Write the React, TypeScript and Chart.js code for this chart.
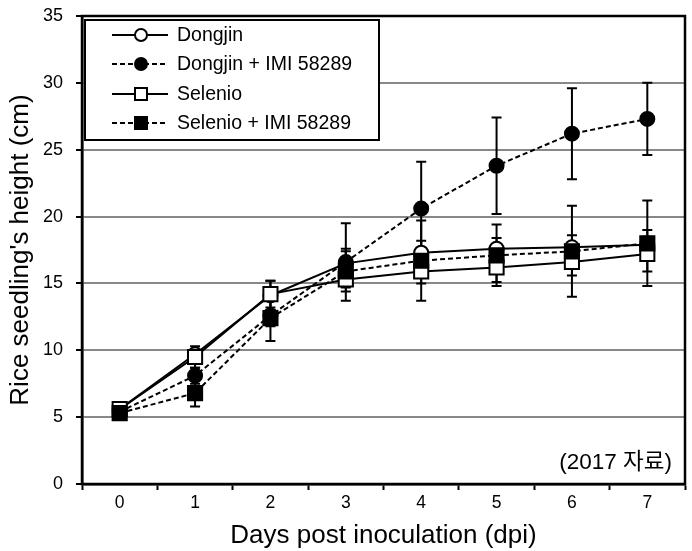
import React, { useEffect, useRef } from "react";
import { Chart, registerables } from "chart.js";

Chart.register(...registerables);

const days = ["0", "1", "2", "3", "4", "5", "6", "7"];
const seriesNames = ["Dongjin", "Dongjin + IMI 58289", "Selenio", "Selenio + IMI 58289"];

const dongjin = [5.6, 9.7, 14.1, 16.5, 17.3, 17.6, 17.7, 17.9];
const dongjinErr = [0.2, 0.3, 1.1, 1.1, 0.9, 0.8, 0.9, 1.1];
const dongjinImi = [5.4, 8.1, 12.6, 16.6, 20.6, 23.8, 26.2, 27.3];
const dongjinImiErr = [0.2, 0.6, 1.9, 2.9, 3.5, 3.6, 3.4, 2.7];
const selenio = [5.6, 9.5, 14.2, 15.3, 15.9, 16.2, 16.6, 17.2];
const selenioErr = [0.2, 0.8, 1.0, 0.6, 0.9, 1.1, 1.0, 1.3];
const selenioImi = [5.3, 6.8, 12.4, 15.9, 16.7, 17.1, 17.4, 18.0];
const selenioImiErr = [0.2, 1.0, 0.6, 1.5, 3.0, 2.3, 3.4, 3.2];

const yTicks = [0, 5, 10, 15, 20, 25, 30, 35];
const noteText = "(2017 자료)";
const yTitle = "Rice seedling's height (cm)";
const xTitle = "Days post inoculation (dpi)";

const FONT = '"Liberation Sans", Arial, "Noto Sans CJK KR", sans-serif';

const errors = [dongjinErr, dongjinImiErr, selenioErr, selenioImiErr];

const errorBarPlugin = {
  id: "errorBars",
  beforeDatasetsDraw(chart: any) {
    const ctx = chart.ctx;
    const yScale = chart.scales.y;
    ctx.save();
    ctx.strokeStyle = "#000";
    ctx.lineWidth = 2;
    chart.data.datasets.forEach((ds: any, i: number) => {
      const meta = chart.getDatasetMeta(i);
      const errs = errors[i];
      meta.data.forEach((pt: any, j: number) => {
        const v = ds.data[j];
        const e = errs[j];
        const x = pt.x;
        const yt = yScale.getPixelForValue(v + e);
        const yb = yScale.getPixelForValue(v - e);
        ctx.beginPath();
        ctx.moveTo(x, yt);
        ctx.lineTo(x, yb);
        ctx.moveTo(x - 5, yt);
        ctx.lineTo(x + 5, yt);
        ctx.moveTo(x - 5, yb);
        ctx.lineTo(x + 5, yb);
        ctx.stroke();
      });
    });
    ctx.restore();
  },
};

const frameLegendPlugin = {
  id: "frameLegend",
  afterDraw(chart: any) {
    const ctx = chart.ctx;
    const a = chart.chartArea;
    ctx.save();
    // plot frame
    ctx.strokeStyle = "#000";
    ctx.lineWidth = 2.5;
    ctx.strokeRect(a.left, a.top, a.right - a.left, a.bottom - a.top);

    // legend box
    const bx = a.left + 3;
    const by = a.top + 4;
    ctx.fillStyle = "#fff";
    ctx.fillRect(bx, by, 294, 120);
    ctx.lineWidth = 2;
    ctx.strokeRect(bx, by, 294, 120);

    const rows = [15, 44, 74, 103];
    chart.data.datasets.forEach((ds: any, i: number) => {
      const y = by + rows[i];
      const x0 = bx + 27;
      const x1 = bx + 83;
      const mx = bx + 56;
      ctx.strokeStyle = "#000";
      ctx.lineWidth = 2;
      ctx.setLineDash(ds.borderDash || []);
      ctx.beginPath();
      ctx.moveTo(x0, y);
      ctx.lineTo(x1, y);
      ctx.stroke();
      ctx.setLineDash([]);
      ctx.fillStyle = ds.pointBackgroundColor;
      ctx.beginPath();
      if (ds.pointStyle === "rect") {
        ctx.rect(mx - 6, y - 6, 12, 12);
      } else {
        ctx.arc(mx, y, 6, 0, Math.PI * 2);
      }
      ctx.fill();
      ctx.stroke();
      ctx.fillStyle = "#000";
      ctx.font = "19.5px " + FONT;
      ctx.textBaseline = "middle";
      ctx.textAlign = "left";
      ctx.fillText(ds.label, bx + 92, y + 1);
    });

    // note
    ctx.font = "22.5px " + FONT;
    ctx.textAlign = "right";
    ctx.textBaseline = "middle";
    ctx.fillStyle = "#000";
    ctx.fillText(noteText, a.right - 13, a.bottom - 21);
    ctx.restore();
  },
};

export default function App() {
  const ref = useRef<HTMLCanvasElement>(null);

  useEffect(() => {
    document.body.style.margin = "0";
    const canvas = ref.current;
    if (!canvas) return;
    const mk = (label: string, data: number[], dashed: boolean, style: string, filled: boolean, order: number) => ({
      label,
      data,
      borderColor: "#000",
      borderWidth: 2,
      borderDash: dashed ? [5, 3] : [],
      pointStyle: style,
      pointRadius: style === "rect" ? 10 : 7,
      pointBackgroundColor: filled ? "#000" : "#fff",
      pointBorderColor: "#000",
      pointBorderWidth: 2,
      fill: false,
      tension: 0,
      order,
    });
    const chart = new Chart(canvas, {
      type: "line",
      data: {
        labels: days,
        datasets: [
          mk(seriesNames[0], dongjin, false, "circle", false, 3),
          mk(seriesNames[1], dongjinImi, true, "circle", true, 2),
          mk(seriesNames[2], selenio, false, "rect", false, 1),
          mk(seriesNames[3], selenioImi, true, "rect", true, 0),
        ],
      },
      options: {
        animation: false,
        responsive: false,
        maintainAspectRatio: false,
        layout: { autoPadding: false, padding: { left: 0, right: 7, top: 16, bottom: 0 } },
        plugins: {
          legend: { display: false },
          tooltip: { enabled: false },
        },
        scales: {
          x: {
            type: "category",
            offset: true,
            grid: {
              offset: true,
              drawOnChartArea: false,
              drawTicks: true,
              tickLength: 6,
              tickColor: "#000",
              tickWidth: 2,
            },
            border: { color: "#000", width: 2.5 },
            ticks: { color: "#000", font: { family: FONT, size: 17.5 }, padding: 3, maxRotation: 0 },
            title: {
              display: true,
              text: xTitle,
              color: "#000",
              font: { family: FONT, size: 26 },
              padding: { top: 2, bottom: 0 },
            },
            afterFit: (s: any) => {
              s.height = 67;
              s.paddingLeft = 0;
              s.paddingRight = 0;
            },
          },
          y: {
            min: 0,
            max: 35,
            afterBuildTicks: (s: any) => {
              s.ticks = yTicks.map((v) => ({ value: v }));
            },
            grid: {
              color: "#888",
              lineWidth: 2,
              tickLength: 6,
              tickColor: "#000",
              tickWidth: 2,
            },
            border: { color: "#000", width: 2.5 },
            ticks: { color: "#000", font: { family: FONT, size: 18 }, padding: 13 },
            title: {
              display: true,
              text: yTitle,
              color: "#000",
              font: { family: FONT, size: 26 },
              padding: { top: 5, bottom: 0 },
            },
            afterFit: (s: any) => {
              s.width = 82;
              s.paddingTop = 0;
              s.paddingBottom = 0;
            },
          },
        },
      },
      plugins: [errorBarPlugin, frameLegendPlugin],
    } as any);
    return () => chart.destroy();
  }, []);

  return <canvas ref={ref} width={692} height={551} style={{ display: "block", width: 692, height: 551 }} />;
}
